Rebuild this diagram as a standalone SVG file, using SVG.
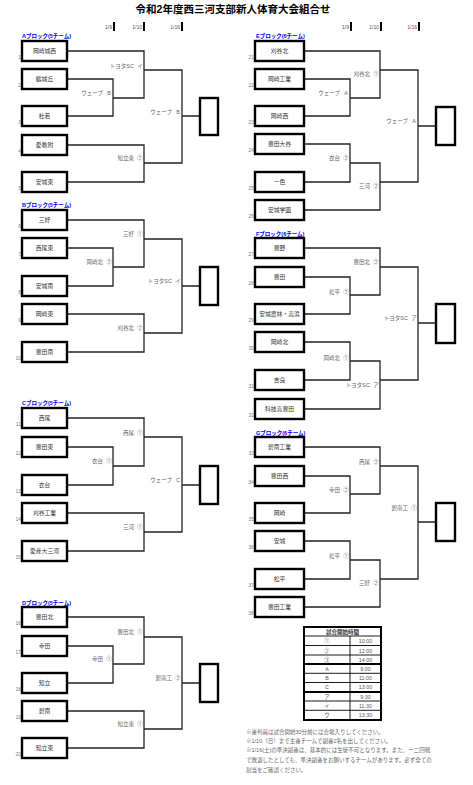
<svg xmlns="http://www.w3.org/2000/svg" width="473" height="785" viewBox="0 0 473 785">
<style>
text{font-family:"Liberation Sans","Noto Sans CJK JP",sans-serif}
.ttl{font-size:10.5px;font-weight:bold;fill:#000;text-anchor:middle}
.hd{font-size:5px;fill:#555;text-anchor:end}
.bar{fill:#000}
.blk{font-size:5.5px;font-weight:bold;fill:#0000ff}
.box{fill:#fff;stroke:#000;stroke-width:2.4}
.res{fill:#fff;stroke:#000;stroke-width:2.4}
.tm{font-size:5.8px;fill:#333;text-anchor:middle}
.num{font-size:5px;fill:#777;text-anchor:end}
.ln{fill:none;stroke:#222;stroke-width:1.3}
.lb{font-size:5.5px;fill:#666;text-anchor:end}
.sy{font-size:5.5px;fill:#666;text-anchor:middle}
.tb{fill:none;stroke:#000;stroke-width:0.9}
.tbt{fill:none;stroke:#000;stroke-width:2}
.tt{font-size:5.3px;fill:#555;text-anchor:middle}
.th{font-size:5.5px;font-weight:bold;fill:#333;text-anchor:middle}
.nt{font-size:5.5px;fill:#666}
</style>
<rect width="473" height="785" fill="#fff"/>
<text class="ttl" x="233" y="13">令和2年度西三河支部新人体育大会組合せ</text>
<g id="headers">
<text class="hd" x="112" y="29">1/9</text><rect class="bar" x="113" y="22" width="2" height="9"/>
<text class="hd" x="142" y="29">1/10</text><rect class="bar" x="143" y="22" width="2" height="9"/>
<text class="hd" x="180" y="29">1/16</text><rect class="bar" x="181" y="22" width="2" height="9"/>
<text class="hd" x="349" y="29">1/9</text><rect class="bar" x="350" y="22" width="2" height="9"/>
<text class="hd" x="379" y="29">1/10</text><rect class="bar" x="380" y="22" width="2" height="9"/>
<text class="hd" x="417" y="29">1/16</text><rect class="bar" x="418" y="22" width="2" height="9"/>
</g>
<g id="connectors">
<path class="ln" d="M67 51H144V98H113 M67 79H113V116H67 M144 70H182V163H144 M67 145H144V182H67 M182 116H200"/>
<path class="ln" d="M67 220H144V267H113 M67 248H113V286H67 M144 239H182V333H144 M67 314H144V352H67 M182 286H200"/>
<path class="ln" d="M67 418H144V466H113 M67 447H113V485H67 M144 437H182V532H144 M67 513H144V551H67 M182 485H200"/>
<path class="ln" d="M67 617H144V664H113 M67 646H113V683H67 M144 637H182V729H144 M67 711H144V748H67 M182 683H200"/>
<path class="ln" d="M304 51H380V98H350 M304 79H350V116H304 M380 70H418V182H380 M304 144H350V182H304 M350 163H380V210H304 M418 126H436"/>
<path class="ln" d="M304 248H380V295H350 M304 277H350V314H304 M380 267H418V380H380 M304 342H350V380H304 M350 361H380V409H304 M418 323H436"/>
<path class="ln" d="M304 447H380V494H350 M304 476H350V513H304 M380 466H418V579H380 M304 541H350V579H304 M350 560H380V607H304 M418 522H436"/>
</g>
<g id="blockA">
<text class="blk" x="22" y="38">Aブロック(5チーム)</text>
<g id="t1"><rect class="box" x="22" y="41" width="45" height="20"/><text class="tm" x="44.5" y="53">岡崎城西</text><text class="num" x="21" y="59">1</text></g>
<g id="t2"><rect class="box" x="22" y="69" width="45" height="20"/><text class="tm" x="44.5" y="81">鶴城丘</text><text class="num" x="21" y="87">2</text></g>
<g id="t3"><rect class="box" x="22" y="106" width="45" height="20"/><text class="tm" x="44.5" y="118">杜若</text><text class="num" x="21" y="124">3</text></g>
<g id="t4"><rect class="box" x="22" y="135" width="45" height="20"/><text class="tm" x="44.5" y="147">愛教附</text><text class="num" x="21" y="153">4</text></g>
<g id="t5"><rect class="box" x="22" y="172" width="45" height="20"/><text class="tm" x="44.5" y="184">安城東</text><text class="num" x="21" y="190">5</text></g>
<g id="rA"><rect class="res" x="200" y="98" width="18" height="37"/></g>
<text class="lb" x="134" y="68">トヨタSC</text><text class="sy" x="140" y="68">イ</text>
<text class="lb" x="103" y="95">ウェーブ</text><text class="sy" x="109" y="95">B</text>
<text class="lb" x="172" y="114">ウェーブ</text><text class="sy" x="178" y="114">B</text>
<text class="lb" x="134" y="160">知立東</text><text class="sy" x="140" y="160">②</text>
</g>
<g id="blockB">
<text class="blk" x="22" y="207">Bブロック(5チーム)</text>
<g id="t6"><rect class="box" x="22" y="210" width="45" height="20"/><text class="tm" x="44.5" y="222">三好</text><text class="num" x="21" y="228">6</text></g>
<g id="t7"><rect class="box" x="22" y="238" width="45" height="20"/><text class="tm" x="44.5" y="250">西尾東</text><text class="num" x="21" y="256">7</text></g>
<g id="t8"><rect class="box" x="22" y="276" width="45" height="20"/><text class="tm" x="44.5" y="288">安城南</text><text class="num" x="21" y="294">8</text></g>
<g id="t9"><rect class="box" x="22" y="304" width="45" height="20"/><text class="tm" x="44.5" y="316">岡崎東</text><text class="num" x="21" y="322">9</text></g>
<g id="t10"><rect class="box" x="22" y="342" width="45" height="20"/><text class="tm" x="44.5" y="354">豊田南</text><text class="num" x="21" y="360">10</text></g>
<g id="rB"><rect class="res" x="200" y="267" width="18" height="38"/></g>
<text class="lb" x="134" y="236">三好</text><text class="sy" x="140" y="236">①</text>
<text class="lb" x="103" y="264">岡崎北</text><text class="sy" x="109" y="264">②</text>
<text class="lb" x="172" y="283">トヨタSC</text><text class="sy" x="178" y="283">イ</text>
<text class="lb" x="134" y="330">刈谷北</text><text class="sy" x="140" y="330">②</text>
</g>
<g id="blockC">
<text class="blk" x="22" y="405">Cブロック(5チーム)</text>
<g id="t11"><rect class="box" x="22" y="408" width="45" height="20"/><text class="tm" x="44.5" y="420">西尾</text><text class="num" x="21" y="426">11</text></g>
<g id="t12"><rect class="box" x="22" y="437" width="45" height="20"/><text class="tm" x="44.5" y="449">豊田東</text><text class="num" x="21" y="455">12</text></g>
<g id="t13"><rect class="box" x="22" y="475" width="45" height="20"/><text class="tm" x="44.5" y="487">衣台</text><text class="num" x="21" y="493">13</text></g>
<g id="t14"><rect class="box" x="22" y="503" width="45" height="20"/><text class="tm" x="44.5" y="515">刈谷工業</text><text class="num" x="21" y="521">14</text></g>
<g id="t15"><rect class="box" x="22" y="541" width="45" height="20"/><text class="tm" x="44.5" y="553">愛産大三河</text><text class="num" x="21" y="559">15</text></g>
<g id="rC"><rect class="res" x="200" y="466" width="18" height="38"/></g>
<text class="lb" x="134" y="435">西尾</text><text class="sy" x="140" y="435">①</text>
<text class="lb" x="103" y="463">衣台</text><text class="sy" x="109" y="463">①</text>
<text class="lb" x="172" y="482">ウェーブ</text><text class="sy" x="178" y="482">C</text>
<text class="lb" x="134" y="529">三河</text><text class="sy" x="140" y="529">①</text>
</g>
<g id="blockD">
<text class="blk" x="22" y="605">Dブロック(5チーム)</text>
<g id="t16"><rect class="box" x="22" y="607" width="45" height="20"/><text class="tm" x="44.5" y="619">豊田北</text><text class="num" x="21" y="625">16</text></g>
<g id="t17"><rect class="box" x="22" y="636" width="45" height="20"/><text class="tm" x="44.5" y="648">幸田</text><text class="num" x="21" y="654">17</text></g>
<g id="t18"><rect class="box" x="22" y="673" width="45" height="20"/><text class="tm" x="44.5" y="685">知立</text><text class="num" x="21" y="691">18</text></g>
<g id="t19"><rect class="box" x="22" y="701" width="45" height="20"/><text class="tm" x="44.5" y="713">碧南</text><text class="num" x="21" y="719">19</text></g>
<g id="t20"><rect class="box" x="22" y="738" width="45" height="20"/><text class="tm" x="44.5" y="750">知立東</text><text class="num" x="21" y="756">20</text></g>
<g id="rD"><rect class="res" x="200" y="664" width="18" height="38"/></g>
<text class="lb" x="134" y="634">豊田北</text><text class="sy" x="140" y="634">①</text>
<text class="lb" x="103" y="661">幸田</text><text class="sy" x="109" y="661">①</text>
<text class="lb" x="172" y="680">碧南工</text><text class="sy" x="178" y="680">②</text>
<text class="lb" x="134" y="726">知立東</text><text class="sy" x="140" y="726">①</text>
</g>
<g id="blockE">
<text class="blk" x="256" y="38">Eブロック(6チーム)</text>
<g id="t21"><rect class="box" x="255" y="41" width="49" height="20"/><text class="tm" x="279.5" y="53">刈谷北</text><text class="num" x="254" y="59">21</text></g>
<g id="t22"><rect class="box" x="255" y="69" width="49" height="20"/><text class="tm" x="279.5" y="81">岡崎工業</text><text class="num" x="254" y="87">22</text></g>
<g id="t23"><rect class="box" x="255" y="106" width="49" height="20"/><text class="tm" x="279.5" y="118">岡崎西</text><text class="num" x="254" y="124">23</text></g>
<g id="t24"><rect class="box" x="255" y="134" width="49" height="20"/><text class="tm" x="279.5" y="146">豊田大谷</text><text class="num" x="254" y="152">24</text></g>
<g id="t25"><rect class="box" x="255" y="172" width="49" height="20"/><text class="tm" x="279.5" y="184">一色</text><text class="num" x="254" y="190">25</text></g>
<g id="t26"><rect class="box" x="255" y="200" width="49" height="20"/><text class="tm" x="279.5" y="212">安城学園</text><text class="num" x="254" y="218">26</text></g>
<g id="rE"><rect class="res" x="436" y="107" width="19" height="38"/></g>
<text class="lb" x="370" y="76">刈谷北</text><text class="sy" x="376" y="76">①</text>
<text class="lb" x="340" y="95">ウェーブ</text><text class="sy" x="346" y="95">A</text>
<text class="lb" x="408" y="123">ウェーブ</text><text class="sy" x="414" y="123">A</text>
<text class="lb" x="340" y="160">衣台</text><text class="sy" x="346" y="160">②</text>
<text class="lb" x="370" y="188">三河</text><text class="sy" x="376" y="188">②</text>
</g>
<g id="blockF">
<text class="blk" x="256" y="236">Fブロック(6チーム)</text>
<g id="t27"><rect class="box" x="255" y="238" width="49" height="20"/><text class="tm" x="279.5" y="250">豊野</text><text class="num" x="254" y="256">27</text></g>
<g id="t28"><rect class="box" x="255" y="267" width="49" height="20"/><text class="tm" x="279.5" y="279">豊田</text><text class="num" x="254" y="285">28</text></g>
<g id="t29"><rect class="box" x="255" y="304" width="49" height="20"/><text class="tm" x="279.5" y="316">安城農林・高浜</text><text class="num" x="254" y="322">29</text></g>
<g id="t30"><rect class="box" x="255" y="332" width="49" height="20"/><text class="tm" x="279.5" y="344">岡崎北</text><text class="num" x="254" y="350">30</text></g>
<g id="t31"><rect class="box" x="255" y="370" width="49" height="20"/><text class="tm" x="279.5" y="382">吉良</text><text class="num" x="254" y="388">31</text></g>
<g id="t32"><rect class="box" x="255" y="399" width="49" height="20"/><text class="tm" x="279.5" y="411">科技高豊田</text><text class="num" x="254" y="417">32</text></g>
<g id="rF"><rect class="res" x="436" y="304" width="19" height="39"/></g>
<text class="lb" x="370" y="264">豊田北</text><text class="sy" x="376" y="264">②</text>
<text class="lb" x="340" y="294">松平</text><text class="sy" x="346" y="294">②</text>
<text class="lb" x="408" y="320">トヨタSC</text><text class="sy" x="414" y="320">ア</text>
<text class="lb" x="340" y="360">岡崎北</text><text class="sy" x="346" y="360">①</text>
<text class="lb" x="370" y="387">トヨタSC</text><text class="sy" x="376" y="387">ア</text>
</g>
<g id="blockG">
<text class="blk" x="256" y="435">Gブロック(6チーム)</text>
<g id="t33"><rect class="box" x="255" y="437" width="49" height="20"/><text class="tm" x="279.5" y="449">碧南工業</text><text class="num" x="254" y="455">33</text></g>
<g id="t34"><rect class="box" x="255" y="466" width="49" height="20"/><text class="tm" x="279.5" y="478">豊田西</text><text class="num" x="254" y="484">34</text></g>
<g id="t35"><rect class="box" x="255" y="503" width="49" height="20"/><text class="tm" x="279.5" y="515">岡崎</text><text class="num" x="254" y="521">35</text></g>
<g id="t36"><rect class="box" x="255" y="531" width="49" height="20"/><text class="tm" x="279.5" y="543">安城</text><text class="num" x="254" y="549">36</text></g>
<g id="t37"><rect class="box" x="255" y="569" width="49" height="20"/><text class="tm" x="279.5" y="581">松平</text><text class="num" x="254" y="587">37</text></g>
<g id="t38"><rect class="box" x="255" y="597" width="49" height="20"/><text class="tm" x="279.5" y="609">豊田工業</text><text class="num" x="254" y="615">38</text></g>
<g id="rG"><rect class="res" x="436" y="503" width="19" height="38"/></g>
<text class="lb" x="370" y="464">西尾</text><text class="sy" x="376" y="464">②</text>
<text class="lb" x="340" y="492">幸田</text><text class="sy" x="346" y="492">②</text>
<text class="lb" x="408" y="510">碧南工</text><text class="sy" x="414" y="510">①</text>
<text class="lb" x="340" y="558">松平</text><text class="sy" x="346" y="558">①</text>
<text class="lb" x="370" y="585">三好</text><text class="sy" x="376" y="585">②</text>
</g>
<g id="schedule">
<rect class="tbt" x="304" y="627" width="77" height="93"/>
<path class="tb" d="M304 636H381 M304 645.5H381 M304 655H381 M304 673.3H381 M304 682.5H381 M304 701H381 M304 710.3H381 M350 636V720"/>
<path class="tbt" d="M304 664H381 M304 692H381"/>
<text class="th" x="342.5" y="634">試合開始時間</text>
<text class="tt" x="327" y="643">①</text><text class="tt" x="365.5" y="643">10:00</text>
<text class="tt" x="327" y="652.5">②</text><text class="tt" x="365.5" y="652.5">12:00</text>
<text class="tt" x="327" y="661.5">③</text><text class="tt" x="365.5" y="661.5">14:00</text>
<text class="tt" x="327" y="670.5">A</text><text class="tt" x="365.5" y="670.5">9:00</text>
<text class="tt" x="327" y="680">B</text><text class="tt" x="365.5" y="680">11:00</text>
<text class="tt" x="327" y="689">C</text><text class="tt" x="365.5" y="689">13:00</text>
<text class="tt" x="327" y="698.5">ア</text><text class="tt" x="365.5" y="698.5">9:30</text>
<text class="tt" x="327" y="707.5">イ</text><text class="tt" x="365.5" y="707.5">11:30</text>
<text class="tt" x="327" y="717">ウ</text><text class="tt" x="365.5" y="717">13:30</text>
</g>
<g id="notes">
<text class="nt" x="246" y="734">※審判員は試合開始30分前には会場入りしてください。</text>
<text class="nt" x="246" y="743">※1/10（日）まで主審チームで副審2名を出してください。</text>
<text class="nt" x="246" y="752">※1/16(土)の準決副審は、基本的には生徒不可となります。また、一二回戦</text>
<text class="nt" x="246" y="762">で敗退したとしても、準決副審をお願いするチームがあります。必ず全ての</text>
<text class="nt" x="246" y="772">割当をご確認ください。</text>
</g>
</svg>
